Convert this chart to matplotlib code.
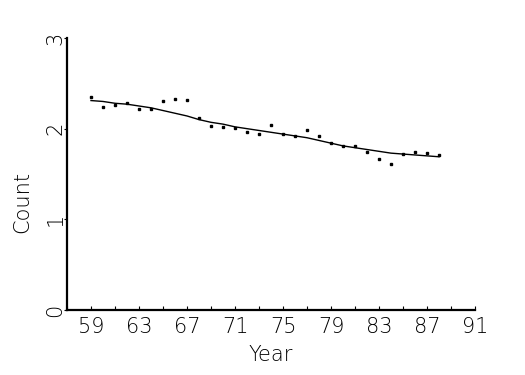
import numpy as np
import matplotlib
matplotlib.use("Agg")
import matplotlib.pyplot as plt

# yearly counts (years 59..88)
years = list(range(59, 89))
counts = [2.35, 2.235, 2.257, 2.28, 2.216, 2.216, 2.304, 2.33, 2.315, 2.117,
          2.03, 2.02, 2.01, 1.96, 1.94, 2.04, 1.94, 1.915, 1.99, 1.92,
          1.84, 1.81, 1.81, 1.74, 1.67, 1.61, 1.72, 1.74, 1.73, 1.71]
# smoothed trend line
trend = [2.31, 2.30, 2.28, 2.27, 2.25, 2.23, 2.20, 2.17, 2.14, 2.10,
         2.07, 2.05, 2.02, 2.00, 1.98, 1.96, 1.94, 1.92, 1.90, 1.87,
         1.84, 1.81, 1.79, 1.77, 1.75, 1.73, 1.72, 1.71, 1.70, 1.69]

xticks_major = list(range(59, 92, 4))
xticks_minor = list(range(57, 92, 2))
yticks = [0, 1, 2, 3]

fig = plt.figure(figsize=(5.25, 3.75), dpi=100)
ax = fig.add_axes([0.1276, 0.1733, 0.7772, 0.7254])

ax.plot(years, trend, color='black', linewidth=1.0)
ax.plot(years, counts, linestyle='none', marker='s', markersize=1.8, color='black')

ax.set_xlim(57, 91)
ax.set_ylim(0, 3)

for s in ['top', 'right']:
    ax.spines[s].set_visible(False)
for s in ['left', 'bottom']:
    ax.spines[s].set_linewidth(1.6)

ax.set_xticks(xticks_minor)
ax.set_xticklabels([str(t) if t in xticks_major else '' for t in xticks_minor])
ax.tick_params(axis='x', direction='in', length=3, width=0.8, pad=5, labelsize=15)
ax.set_yticks(yticks)
ax.set_yticklabels([str(t) for t in yticks], rotation=90, va='center')
ax.tick_params(axis='y', direction='out', length=2.5, width=0.8, pad=-1.5, labelsize=15)

for lab in ax.get_xticklabels() + ax.get_yticklabels():
    lab.set_fontweight('light')

ax.set_xlabel('Year', fontsize=15, fontweight='light')
ax.set_ylabel('Count', fontsize=15, fontweight='light')
ax.xaxis.set_label_coords(0.5, -0.13)
ax.yaxis.set_label_coords(-0.086, 0.397)

fig.savefig('out.png', dpi=100)
